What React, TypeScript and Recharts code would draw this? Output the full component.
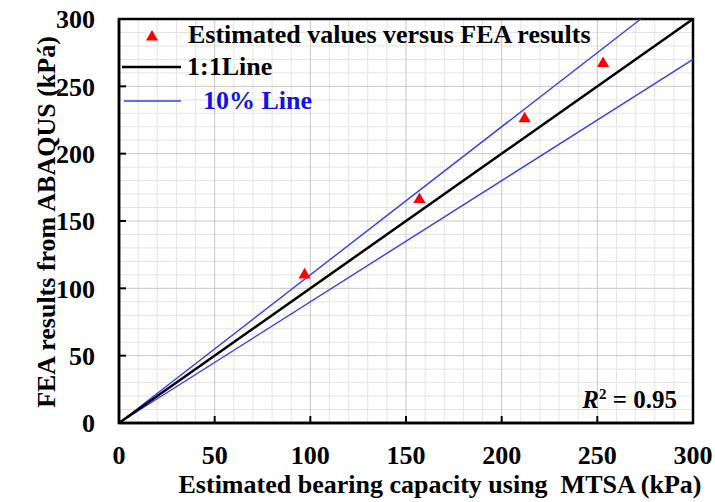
import React from 'react';
import {
  ScatterChart,
  Scatter,
  XAxis,
  YAxis,
  CartesianGrid,
  ReferenceLine,
  ReferenceArea,
  Symbols,
} from 'recharts';

// Axis ticks (kPa)
const xTicks = [0, 50, 100, 150, 200, 250, 300];
const yTicks = [0, 50, 100, 150, 200, 250, 300];
const minorTicks = [
  10, 20, 30, 40, 60, 70, 80, 90, 110, 120, 130, 140, 160, 170, 180, 190,
  210, 220, 230, 240, 260, 270, 280, 290,
];

// Bearing capacity: MTSA estimate vs. ABAQUS FEA result
const mtsaEstimates = [97, 157, 212, 253];
const feaResults = [110, 166, 226, 267];

// Reference lines
const oneToOneLine = [
  { x: 0, y: 0 },
  { x: 300, y: 300 },
];
const upperTenPercent = [
  { x: 0, y: 0 },
  { x: 272.7, y: 300 },
];
const lowerTenPercent = [
  { x: 0, y: 0 },
  { x: 300, y: 270 },
];

const legendLabels = ['Estimated values versus FEA results', '1:1Line', '10% Line'];
const rSquared = '0.95';

const xTitle = 'Estimated bearing capacity using  MTSA (kPa)';
const yTitle = 'FEA results from ABAQUS (kPa\u0301)';

const points = mtsaEstimates.map((x, i) => ({ x, y: feaResults[i] }));

const FONT = '"Liberation Serif", "Times New Roman", serif';
const BLUE_LINE = '#3a3af2';
const BLUE_TEXT = '#1212e6';
const tickStyle = { fontFamily: FONT, fontWeight: 700, fontSize: 26, fill: '#000', stroke: 'none' };

function FrameNotes(props: any) {
  const vb = props.viewBox || {};
  const { x, y, width, height } = vb;
  if (x == null) return null;
  return (
    <g fontFamily={FONT} fontWeight={700} fontSize={26} stroke="none">
      <Symbols type="triangle" size={64} cx={x + 33} cy={y + 18} fill="#ff0000" stroke="none" />
      <text x={x + 69} y={y + 24} fill="#000" stroke="none">
        {legendLabels[0]}
      </text>
      <line x1={x + 3} x2={x + 62} y1={y + 48} y2={y + 48} stroke="#000" strokeWidth={2.5} />
      <text x={x + 68} y={y + 56} fill="#000" stroke="none">
        {legendLabels[1]}
      </text>
      <line x1={x + 5} x2={x + 62} y1={y + 82} y2={y + 82} stroke={BLUE_LINE} strokeWidth={1.4} />
      <text x={x + 84} y={y + 90} fill={BLUE_TEXT} stroke="none">
        {legendLabels[2]}
      </text>
      <text
        x={x + width - 16}
        y={y + height - 15}
        textAnchor="end"
        fontSize={25}
        fill="#000"
        stroke="none"
        style={{ whiteSpace: 'pre' }}
      >
        <tspan fontStyle="italic">R</tspan>
        <tspan fontSize={15} dy={-9}>2</tspan>
        <tspan dy={9}>{' = ' + rSquared}</tspan>
      </text>
    </g>
  );
}

function XTitle(props: any) {
  const { x, y, width } = props.viewBox || {};
  if (x == null) return null;
  return (
    <text
      x={x + width / 2 + 34}
      y={y + 70}
      textAnchor="middle"
      fontFamily={FONT}
      fontWeight={700}
      fontSize={26}
      fill="#000"
      stroke="none"
      style={{ whiteSpace: 'pre' }}
    >
      {xTitle}
    </text>
  );
}

function YTitle(props: any) {
  const { x, y, height } = props.viewBox || {};
  if (x == null) return null;
  const cx = x + 46;
  const cy = y + height / 2 + 1;
  return (
    <text
      x={cx}
      y={cy}
      transform={`rotate(-90, ${cx}, ${cy})`}
      textAnchor="middle"
      dominantBaseline="central"
      fontFamily={FONT}
      fontWeight={700}
      fontSize={26}
      fill="#000"
      stroke="none"
    >
      {yTitle}
    </text>
  );
}

export default function App() {
  return (
    <div style={{ position: 'absolute', left: 0, top: 0, width: 715, height: 502, background: '#fff' }}>
      <ScatterChart width={715} height={502} margin={{ top: 19, right: 22, bottom: 0, left: 0 }}>
        {/* minor grid every 10 kPa, major grid on the axis ticks */}
        <CartesianGrid stroke="#e4e4e4" strokeWidth={1} verticalValues={minorTicks} horizontalValues={minorTicks} />
        <CartesianGrid stroke="#c8c8c8" strokeWidth={1} fill="none" />
        <XAxis
          type="number"
          dataKey="x"
          domain={[0, 300]}
          ticks={xTicks}
          interval={0}
          height={79}
          tickSize={-7}
          tickMargin={30}
          tick={tickStyle}
          axisLine={{ stroke: '#000', strokeWidth: 2.5 }}
          tickLine={{ stroke: '#000', strokeWidth: 2 }}
          label={XTitle}
        />
        <YAxis
          type="number"
          dataKey="y"
          domain={[0, 300]}
          ticks={yTicks}
          interval={0}
          width={119}
          tickSize={-7}
          tickMargin={31}
          tick={tickStyle}
          axisLine={{ stroke: '#000', strokeWidth: 2.5 }}
          tickLine={{ stroke: '#000', strokeWidth: 2 }}
          label={YTitle}
        />
        <ReferenceLine segment={upperTenPercent} stroke={BLUE_LINE} strokeWidth={1.4} />
        <ReferenceLine segment={lowerTenPercent} stroke={BLUE_LINE} strokeWidth={1.4} />
        <ReferenceLine segment={oneToOneLine} stroke="#000" strokeWidth={2.5} />
        <ReferenceArea
          x1={0}
          x2={300}
          y1={0}
          y2={300}
          fill="none"
          fillOpacity={0}
          stroke="#000"
          strokeWidth={2.5}
          label={FrameNotes}
        />
        <Scatter data={points} shape="triangle" fill="#ff0000" isAnimationActive={false} />
      </ScatterChart>
    </div>
  );
}
